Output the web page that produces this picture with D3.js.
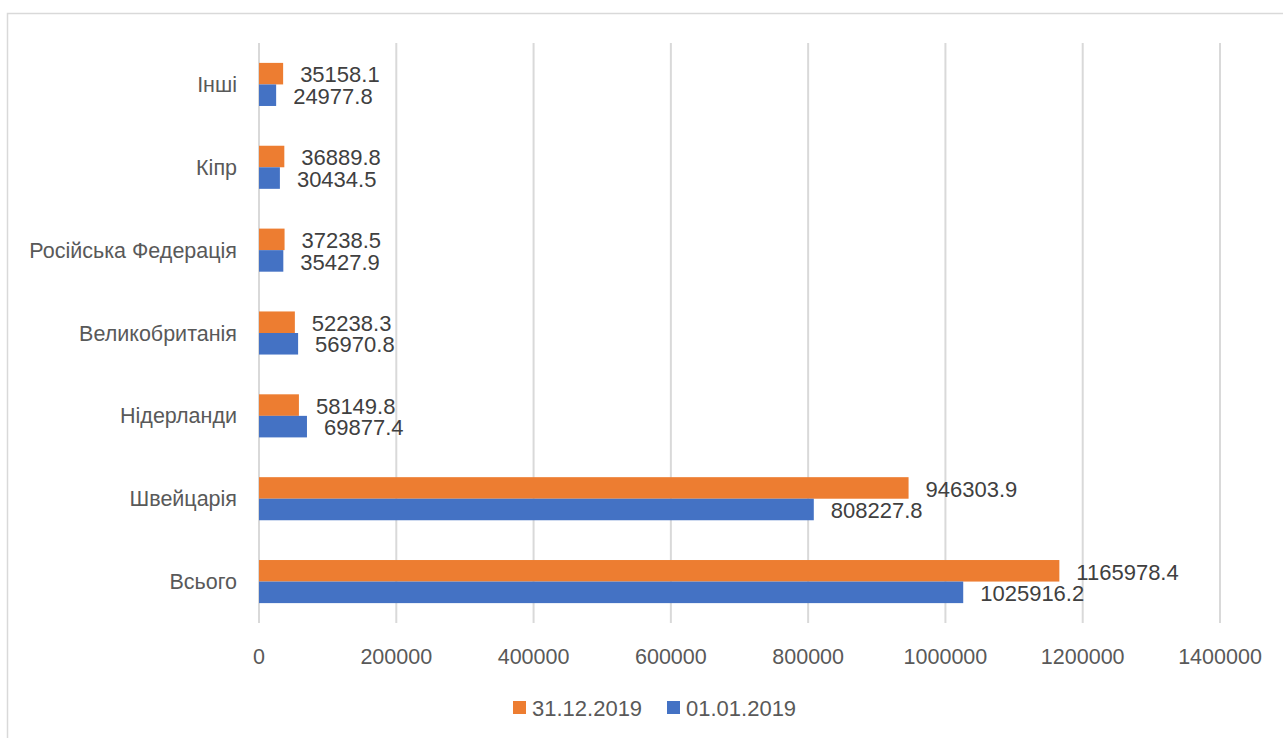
<!DOCTYPE html>
<html>
<head>
<meta charset="utf-8">
<script src="https://cdnjs.cloudflare.com/ajax/libs/d3/7.8.5/d3.min.js"></script>
<style>
  body { margin: 0; background: #fff; }
  text { font-family: "Liberation Sans", Arial, sans-serif; fill: #595959; }
</style>
</head>
<body>
<div id="chart"></div>
<script>
//~~~~~~~~~~~~~~~~~~DATA
const categories = ['Інші', 'Кіпр', 'Російська Федерація', 'Великобританія', 'Нідерланди', 'Швейцарія', 'Всього'];
const series = ['31.12.2019', '01.01.2019'];
const valuesEnd = [35158.1, 36889.8, 37238.5, 52238.3, 58149.8, 946303.9, 1165978.4];
const valuesStart = [24977.8, 30434.5, 35427.9, 56970.8, 69877.4, 808227.8, 1025916.2];
const xTicks = [0, 200000, 400000, 600000, 800000, 1000000, 1200000, 1400000];
const colors = ['#ED7D31', '#4472C4'];

//~~~~~~~~~~~~~~~~~~VARIABLES
let width = 1283;
let height = 738;

let svg = d3.select('#chart')
  .append('svg')
  .attr('width', width)
  .attr('height', height);

// outer frame
svg.append('rect')
  .attr('x', 7.5).attr('y', 13.5)
  .attr('width', width).attr('height', height)
  .attr('fill', 'none')
  .attr('stroke', '#D9D9D9')
  .attr('stroke-width', 1.5);

let x = d3.scaleLinear().domain([0, 1400000]).range([259, 1220]);
let y = d3.scaleBand().domain(categories).range([43, 623]).paddingInner(0.48).paddingOuter(0.24);
let ySub = d3.scaleBand().domain(series).range([0, y.bandwidth()]);

// gridlines
svg.append('g')
  .selectAll('line')
  .data(xTicks)
  .enter()
  .append('line')
  .attr('x1', d => x(d)).attr('x2', d => x(d))
  .attr('y1', 43).attr('y2', 623)
  .attr('stroke', '#D9D9D9')
  .attr('stroke-width', 2);

// tick labels
svg.append('g')
  .selectAll('text')
  .data(xTicks)
  .enter()
  .append('text')
  .attr('x', d => x(d))
  .attr('y', 656)
  .attr('dy', '0.35em')
  .attr('text-anchor', 'middle')
  .style('font-size', '21.5px')
  .text(d => d);

// category labels
svg.append('g')
  .selectAll('text')
  .data(categories)
  .enter()
  .append('text')
  .attr('x', 237)
  .attr('y', d => y(d) + y.bandwidth() / 2)
  .attr('dy', '0.35em')
  .attr('text-anchor', 'end')
  .style('font-size', '21.5px')
  .text(d => d);

let rows = categories.map((c, i) => ({
  cat: c,
  vals: [
    { s: series[0], v: valuesEnd[i] },
    { s: series[1], v: valuesStart[i] }
  ]
}));

let groups = svg.append('g')
  .selectAll('g')
  .data(rows)
  .enter()
  .append('g')
  .attr('transform', d => 'translate(0,' + y(d.cat) + ')');

groups.selectAll('rect')
  .data(d => d.vals)
  .enter()
  .append('rect')
  .attr('x', x(0))
  .attr('y', d => ySub(d.s))
  .attr('width', d => x(d.v) - x(0))
  .attr('height', ySub.bandwidth())
  .attr('fill', (d, i) => colors[i]);

groups.selectAll('text')
  .data(d => d.vals)
  .enter()
  .append('text')
  .attr('x', d => x(d.v) + 17)
  .attr('y', d => ySub(d.s) + ySub.bandwidth() / 2 + 1)
  .attr('dy', '0.35em')
  .style('font-size', '22px')
  .style('fill', '#404040')
  .text(d => d.v.toFixed(1));

//~~~~~~~~~~~~~~~~~~LEGEND
let legendX = [513, 667];
let legend = svg.append('g')
  .selectAll('g')
  .data(series)
  .enter()
  .append('g')
  .attr('transform', (d, i) => 'translate(' + legendX[i] + ',701)');

legend.append('rect')
  .attr('width', 13).attr('height', 13)
  .attr('fill', (d, i) => colors[i]);

legend.append('text')
  .attr('x', 19)
  .attr('y', 7)
  .attr('dy', '0.35em')
  .style('font-size', '22px')
  .text(d => d);
</script>
</body>
</html>
